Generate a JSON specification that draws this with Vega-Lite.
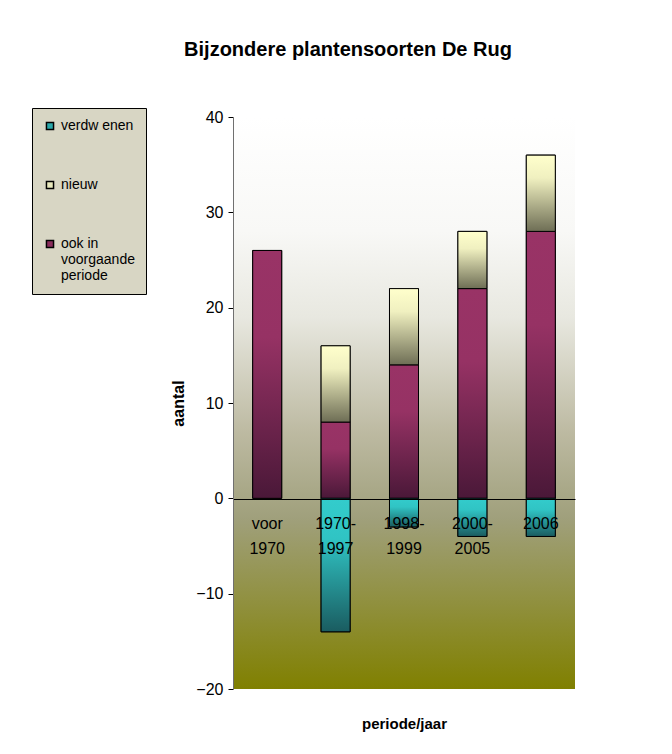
{
  "$schema": "https://vega.github.io/schema/vega-lite/v6.json",
  "width": 342,
  "height": 572,
  "autosize": "none",
  "padding": {"left": 233, "top": 117, "right": 97, "bottom": 65},
  "background": "white",
  "title": {
    "text": "Bijzondere plantensoorten De Rug",
    "fontSize": 20,
    "fontWeight": "bold",
    "color": "black",
    "anchor": "middle",
    "dx": -56,
    "offset": 48
  },
  "config": {
    "font": "Liberation Sans",
    "view": {"stroke": null}
  },
  "datasets": {
    "rows": [
      {"periode": "voor 1970", "categorie": "ook in voorgaande periode", "aantal": 26, "o": 1},
      {"periode": "1970-1997", "categorie": "ook in voorgaande periode", "aantal": 8, "o": 1},
      {"periode": "1970-1997", "categorie": "nieuw", "aantal": 8, "o": 2},
      {"periode": "1970-1997", "categorie": "verdw enen", "aantal": -14, "o": 3},
      {"periode": "1998-1999", "categorie": "ook in voorgaande periode", "aantal": 14, "o": 1},
      {"periode": "1998-1999", "categorie": "nieuw", "aantal": 8, "o": 2},
      {"periode": "1998-1999", "categorie": "verdw enen", "aantal": -3, "o": 3},
      {"periode": "2000-2005", "categorie": "ook in voorgaande periode", "aantal": 22, "o": 1},
      {"periode": "2000-2005", "categorie": "nieuw", "aantal": 6, "o": 2},
      {"periode": "2000-2005", "categorie": "verdw enen", "aantal": -4, "o": 3},
      {"periode": "2006", "categorie": "ook in voorgaande periode", "aantal": 28, "o": 1},
      {"periode": "2006", "categorie": "nieuw", "aantal": 8, "o": 2},
      {"periode": "2006", "categorie": "verdw enen", "aantal": -4, "o": 3}
    ],
    "achtergrond": [{"boven": 40, "onder": -20}]
  },
  "layer": [
    {
      "data": {"name": "achtergrond"},
      "mark": {
        "type": "rect",
        "color": {
          "gradient": "linear", "x1": 0, "y1": 0, "x2": 0, "y2": 1,
          "stops": [
            {"offset": 0, "color": "#ffffff"},
            {"offset": 0.2, "color": "#f8f8f6"},
            {"offset": 0.35, "color": "#e8e8e0"},
            {"offset": 0.55, "color": "#bdbaa2"},
            {"offset": 0.7, "color": "#a0a07c"},
            {"offset": 1, "color": "#808000"}
          ]
        }
      },
      "encoding": {
        "y": {
          "field": "boven",
          "type": "quantitative",
          "scale": {"domain": [-20, 40], "nice": false},
          "axis": {
            "title": "aantal",
            "values": [-20, -10, 0, 10, 20, 30, 40],
            "grid": false,
            "zindex": 1,
            "domainColor": "#707070",
            "tickColor": "black",
            "tickSize": 5,
            "labelFontSize": 16,
            "labelColor": "black",
            "labelPadding": 5,
            "titleFontSize": 16,
            "titleFontWeight": "bold",
            "titleColor": "black",
            "titlePadding": 9
          }
        },
        "y2": {"field": "onder"}
      }
    },
    {
      "data": {"name": "rows"},
      "transform": [
        {"stack": "aantal", "groupby": ["periode"], "sort": [{"field": "o", "order": "ascending"}], "as": ["y0", "y1"]}
      ],
      "encoding": {
        "x": {
          "field": "periode",
          "type": "nominal",
          "sort": ["voor 1970", "1970-1997", "1998-1999", "2000-2005", "2006"],
          "scale": {"paddingInner": 0.576, "paddingOuter": 0.288},
          "axis": {
            "title": "periode/jaar",
            "offset": -190,
            "zindex": 1,
            "grid": false,
            "ticks": false,
            "domainColor": "black",
            "labelAngle": 0,
            "labelFontSize": 16,
            "labelColor": "black",
            "labelLineHeight": 25,
            "labelPadding": 16,
            "labelOverlap": false,
            "labelExpr": "datum.value == 'voor 1970' ? ['voor', '1970'] : (datum.value == '2006' ? '2006' : [slice(datum.value, 0, 5), slice(datum.value, 5)])",
            "titleFontSize": 15,
            "titleFontWeight": "bold",
            "titleColor": "black",
            "titleY": 229,
            "titleBaseline": "alphabetic"
          }
        },
        "y": {"field": "y1", "type": "quantitative"},
        "y2": {"field": "y0"}
      },
      "layer": [
        {
          "mark": {"type": "bar", "stroke": "black", "strokeWidth": 1},
          "encoding": {
            "color": {
              "field": "categorie",
              "type": "nominal",
              "scale": {
                "domain": ["verdw enen", "nieuw", "ook in voorgaande periode"],
                "range": ["#2aa8aa", "#e8e8bc", "#8a2c5c"]
              },
              "legend": {
                "title": null,
                "orient": "none",
                "legendX": -201,
                "legendY": -9,
                "fillColor": "#d8d6c4",
                "strokeColor": "black",
                "padding": 11,
                "symbolType": "square",
                "symbolSize": 50,
                "symbolStrokeColor": "black",
                "labelFontSize": 14,
                "labelColor": "black",
                "labelLineHeight": 19,
                "rowPadding": 45,
                "labelExpr": "datum.label == 'ook in voorgaande periode' ? ['ook in', 'voorgaande', 'periode'] : datum.label"
              }
            }
          }
        },
        {
          "transform": [{"filter": "datum.categorie == 'ook in voorgaande periode'"}],
          "mark": {
            "type": "bar", "stroke": "black", "strokeWidth": 1,
            "color": {"gradient": "linear", "x1": 0, "y1": 0, "x2": 0, "y2": 1,
              "stops": [{"offset": 0, "color": "#993366"}, {"offset": 0.35, "color": "#963264"}, {"offset": 1, "color": "#4a1838"}]}
          }
        },
        {
          "transform": [{"filter": "datum.categorie == 'nieuw'"}],
          "mark": {
            "type": "bar", "stroke": "black", "strokeWidth": 1,
            "color": {"gradient": "linear", "x1": 0, "y1": 0, "x2": 0, "y2": 1,
              "stops": [{"offset": 0, "color": "#ffffcc"}, {"offset": 0.3, "color": "#f0f0c0"}, {"offset": 1, "color": "#6e6e55"}]}
          }
        },
        {
          "transform": [{"filter": "datum.categorie == 'verdw enen'"}],
          "mark": {
            "type": "bar", "stroke": "black", "strokeWidth": 1,
            "color": {"gradient": "linear", "x1": 0, "y1": 0, "x2": 0, "y2": 1,
              "stops": [{"offset": 0, "color": "#33cccc"}, {"offset": 0.3, "color": "#30c4c4"}, {"offset": 1, "color": "#1a5c60"}]}
          }
        }
      ]
    }
  ]
}
